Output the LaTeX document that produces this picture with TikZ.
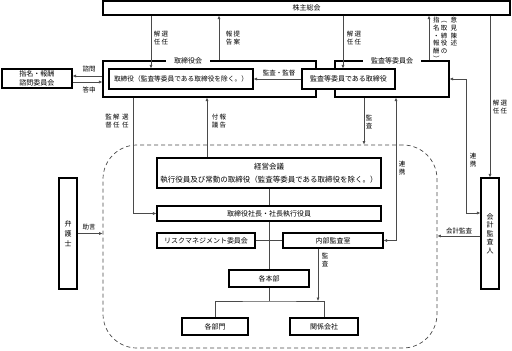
\documentclass[tikz,border=0pt]{standalone}
\usepackage{fontspec}
\setmainfont{Noto Sans CJK JP}
\usetikzlibrary{positioning, arrows.meta}
\definecolor{linec}{HTML}{4A4A4A}
\newcommand{\BoxF}{\fontsize{7}{9}\selectfont}
\newcommand{\LabelF}{\fontsize{6.5}{7.6}\selectfont}
\newcommand{\Tate}[1]{\begin{tabular}[t]{@{}c@{\hspace{1.5pt}}c@{}}#1\end{tabular}}
\newcommand{\TateIII}[2]{\begin{tabular}[t]{@{}c@{\hspace{1.5pt}}c@{\hspace{#1}}c@{}}#2\end{tabular}}

\begin{document}
\begin{tikzpicture}[x=1pt, y=-1pt,
    orgbox/.style={draw, line width=1.1pt, fill=white, inner sep=1pt, font=\BoxF, align=center},
    grouptitle/.style={fill=white, inner xsep=8pt, inner ysep=1pt, font=\BoxF},
    lbl/.style={font=\LabelF, inner sep=0pt, align=center},
    conn/.style={draw=linec, line width=0.6pt},
    arr/.style={conn, -{Latex[length=3.5pt, width=3pt]}},
    dblarr/.style={conn, {Latex[length=3.5pt, width=3pt]}-{Latex[length=3.5pt, width=3pt]}}]
  \useasboundingbox (0,0) rectangle (512,351);

  % execution side (dashed frame)
  \node[draw=linec, line width=0.7pt, dash pattern=on 4pt off 3pt, rounded corners=34pt,
        minimum width=334pt, minimum height=203pt] (execgrp) at (270,246.5) {};

  % shareholders and board
  \node[orgbox, minimum width=407pt, minimum height=14pt] (soukai) at (306.5,8) {株主総会};
  \node[orgbox, minimum width=213pt, minimum height=36pt] (bod) at (209.5,79) {};
  \node[orgbox, minimum width=114pt, minimum height=36pt] (ac) at (392,79) {};
  \node[grouptitle] (bodtitle) at (188,61) {取締役会};
  \node[grouptitle] (actitle) at (392,61) {監査等委員会};
  \node[orgbox, minimum width=144pt, minimum height=20pt, font=\fontsize{6.7}{8}\selectfont]
    (dirs) at (181,79) {取締役（監査等委員である取締役を除く。）};
  \node[orgbox, minimum width=93pt, minimum height=20pt] (acdirs) at (348.5,79) {監査等委員である取締役};
  \node[orgbox, minimum width=70pt, minimum height=19pt] (nomcom) at (37,78.5) {指名・報酬\\諮問委員会};

  % management
  \node[orgbox, minimum width=224pt, minimum height=30pt, font=\fontsize{7.5}{13}\selectfont]
    (keiei) at (269,173) {経営会議\\執行役員及び常勤の取締役（監査等委員である取締役を除く。）};
  \node[orgbox, minimum width=224pt, minimum height=15pt] (ceo) at (269,213.5) {取締役社長・社長執行役員};
  \node[orgbox, minimum width=98pt, minimum height=15pt] (riskcom) at (206,240.5) {リスクマネジメント委員会};
  \node[orgbox, minimum width=100pt, minimum height=15pt] (audit) at (333,240.5) {内部監査室};
  \node[orgbox, minimum width=80pt, minimum height=17pt] (hq) at (269,278.5) {各本部};
  \node[orgbox, minimum width=66pt, minimum height=17pt] (depts) at (215,326.5) {各部門};
  \node[orgbox, minimum width=68pt, minimum height=17pt] (affil) at (324,326.5) {関係会社};

  % outside parties
  \node[orgbox, minimum width=18pt, minimum height=111pt, font=\fontsize{7}{10}\selectfont]
    (lawyer) at (68,233.5) {弁\\護\\士};
  \node[orgbox, minimum width=18pt, minimum height=111pt, font=\fontsize{7}{8.5}\selectfont]
    (auditor) at (490,233.5) {会\\計\\監\\査\\人};

  % connectors
  \draw[arr] (soukai.south -| 151,0) -- (dirs.north -| 151,0);
  \draw[arr] (bod.north -| 219,0) -- (soukai.south -| 219,0);
  \draw[arr] (soukai.south -| 343,0) -- (acdirs.north -| 343,0);
  \draw[arr] (ac.north -| 429,0) -- (soukai.south -| 429,0);
  \draw[arr] (soukai.south -| auditor.north) -- (auditor.north);
  \draw[arr] ([yshift=3pt]bod.west) -- ([yshift=3pt]bod.west -| nomcom.east);
  \draw[arr] ([yshift=-3pt]bod.west -| nomcom.east) -- ([yshift=-3pt]bod.west);
  \draw[arr] (acdirs.west) -- (dirs.east);
  \draw[dblarr] (ac.east) -| (466,213) -- (auditor.west |- 0,213);
  \draw[arr] ([yshift=-2.5pt]auditor.west) -- ([yshift=-2.5pt]auditor.west -| execgrp.east);
  \draw[arr] (lawyer.east) -- (lawyer.east -| execgrp.west);
  \draw[arr] (ac.south -| 364,0) -- (execgrp.north -| 364,0);
  \draw[dblarr] (audit.east) -| (ac.south -| 396,0);
  \draw[arr] (bod.south -| 133,0) |- (ceo.west);
  \draw[arr] (keiei.north -| 207,0) -- (bod.south -| 207,0);
  \draw[conn] (keiei.south) -- (ceo.north);
  \draw[conn] (ceo.south) -- (hq.north);
  \draw[conn] (riskcom.east) -- (audit.west);
  \coordinate (fork) at (269,301);
  \draw[conn] (hq.south) -- (fork);
  \draw[conn] (depts.north) |- (fork) -| (affil.north);
  \draw[arr] (audit.south -| 318,0) -- (fork -| 318,0);

  % labels
  \node[lbl] (lbelect) at (161,39) {\Tate{解&選\\任&任}};
  \node[lbl] (lbreport) at (233,39) {\Tate{報&提\\告&案}};
  \node[lbl] (lbacelect) at (354,39) {\Tate{解&選\\任&任}};
  \node[lbl, anchor=north] (lbopinion) at (445,17)
    {\TateIII{3pt}{指&︵&意\\名&取&見\\・&締&陳\\報&役&述\\酬&の&\\︶&&}};
  \node[lbl] (lbaudelect) at (500,108) {\Tate{解&選\\任&任}};
  \node[lbl] (lbconsult) at (89,69.5) {諮問};
  \node[lbl] (lbreply) at (89,90) {答申};
  \node[lbl] (lbsuper) at (279,73) {監査・監督};
  \node[lbl] (lbceo) at (117,122) {\TateIII{2.5pt}{監&解&選\\督&任&任}};
  \node[lbl] (lbagenda) at (219,122) {\Tate{付&報\\議&告}};
  \node[lbl] (lbaudit) at (369,122) {監\\査};
  \node[lbl] (lbcoop) at (402,168) {連\\携};
  \node[lbl] (lbcoopext) at (473,160) {連\\携};
  \node[lbl] (lbaccaudit) at (459,231) {会計監査};
  \node[lbl] (lbadvice) at (89,227) {助言};
  \node[lbl] (lbinaudit) at (325,260) {監\\査};
\end{tikzpicture}
\end{document}
